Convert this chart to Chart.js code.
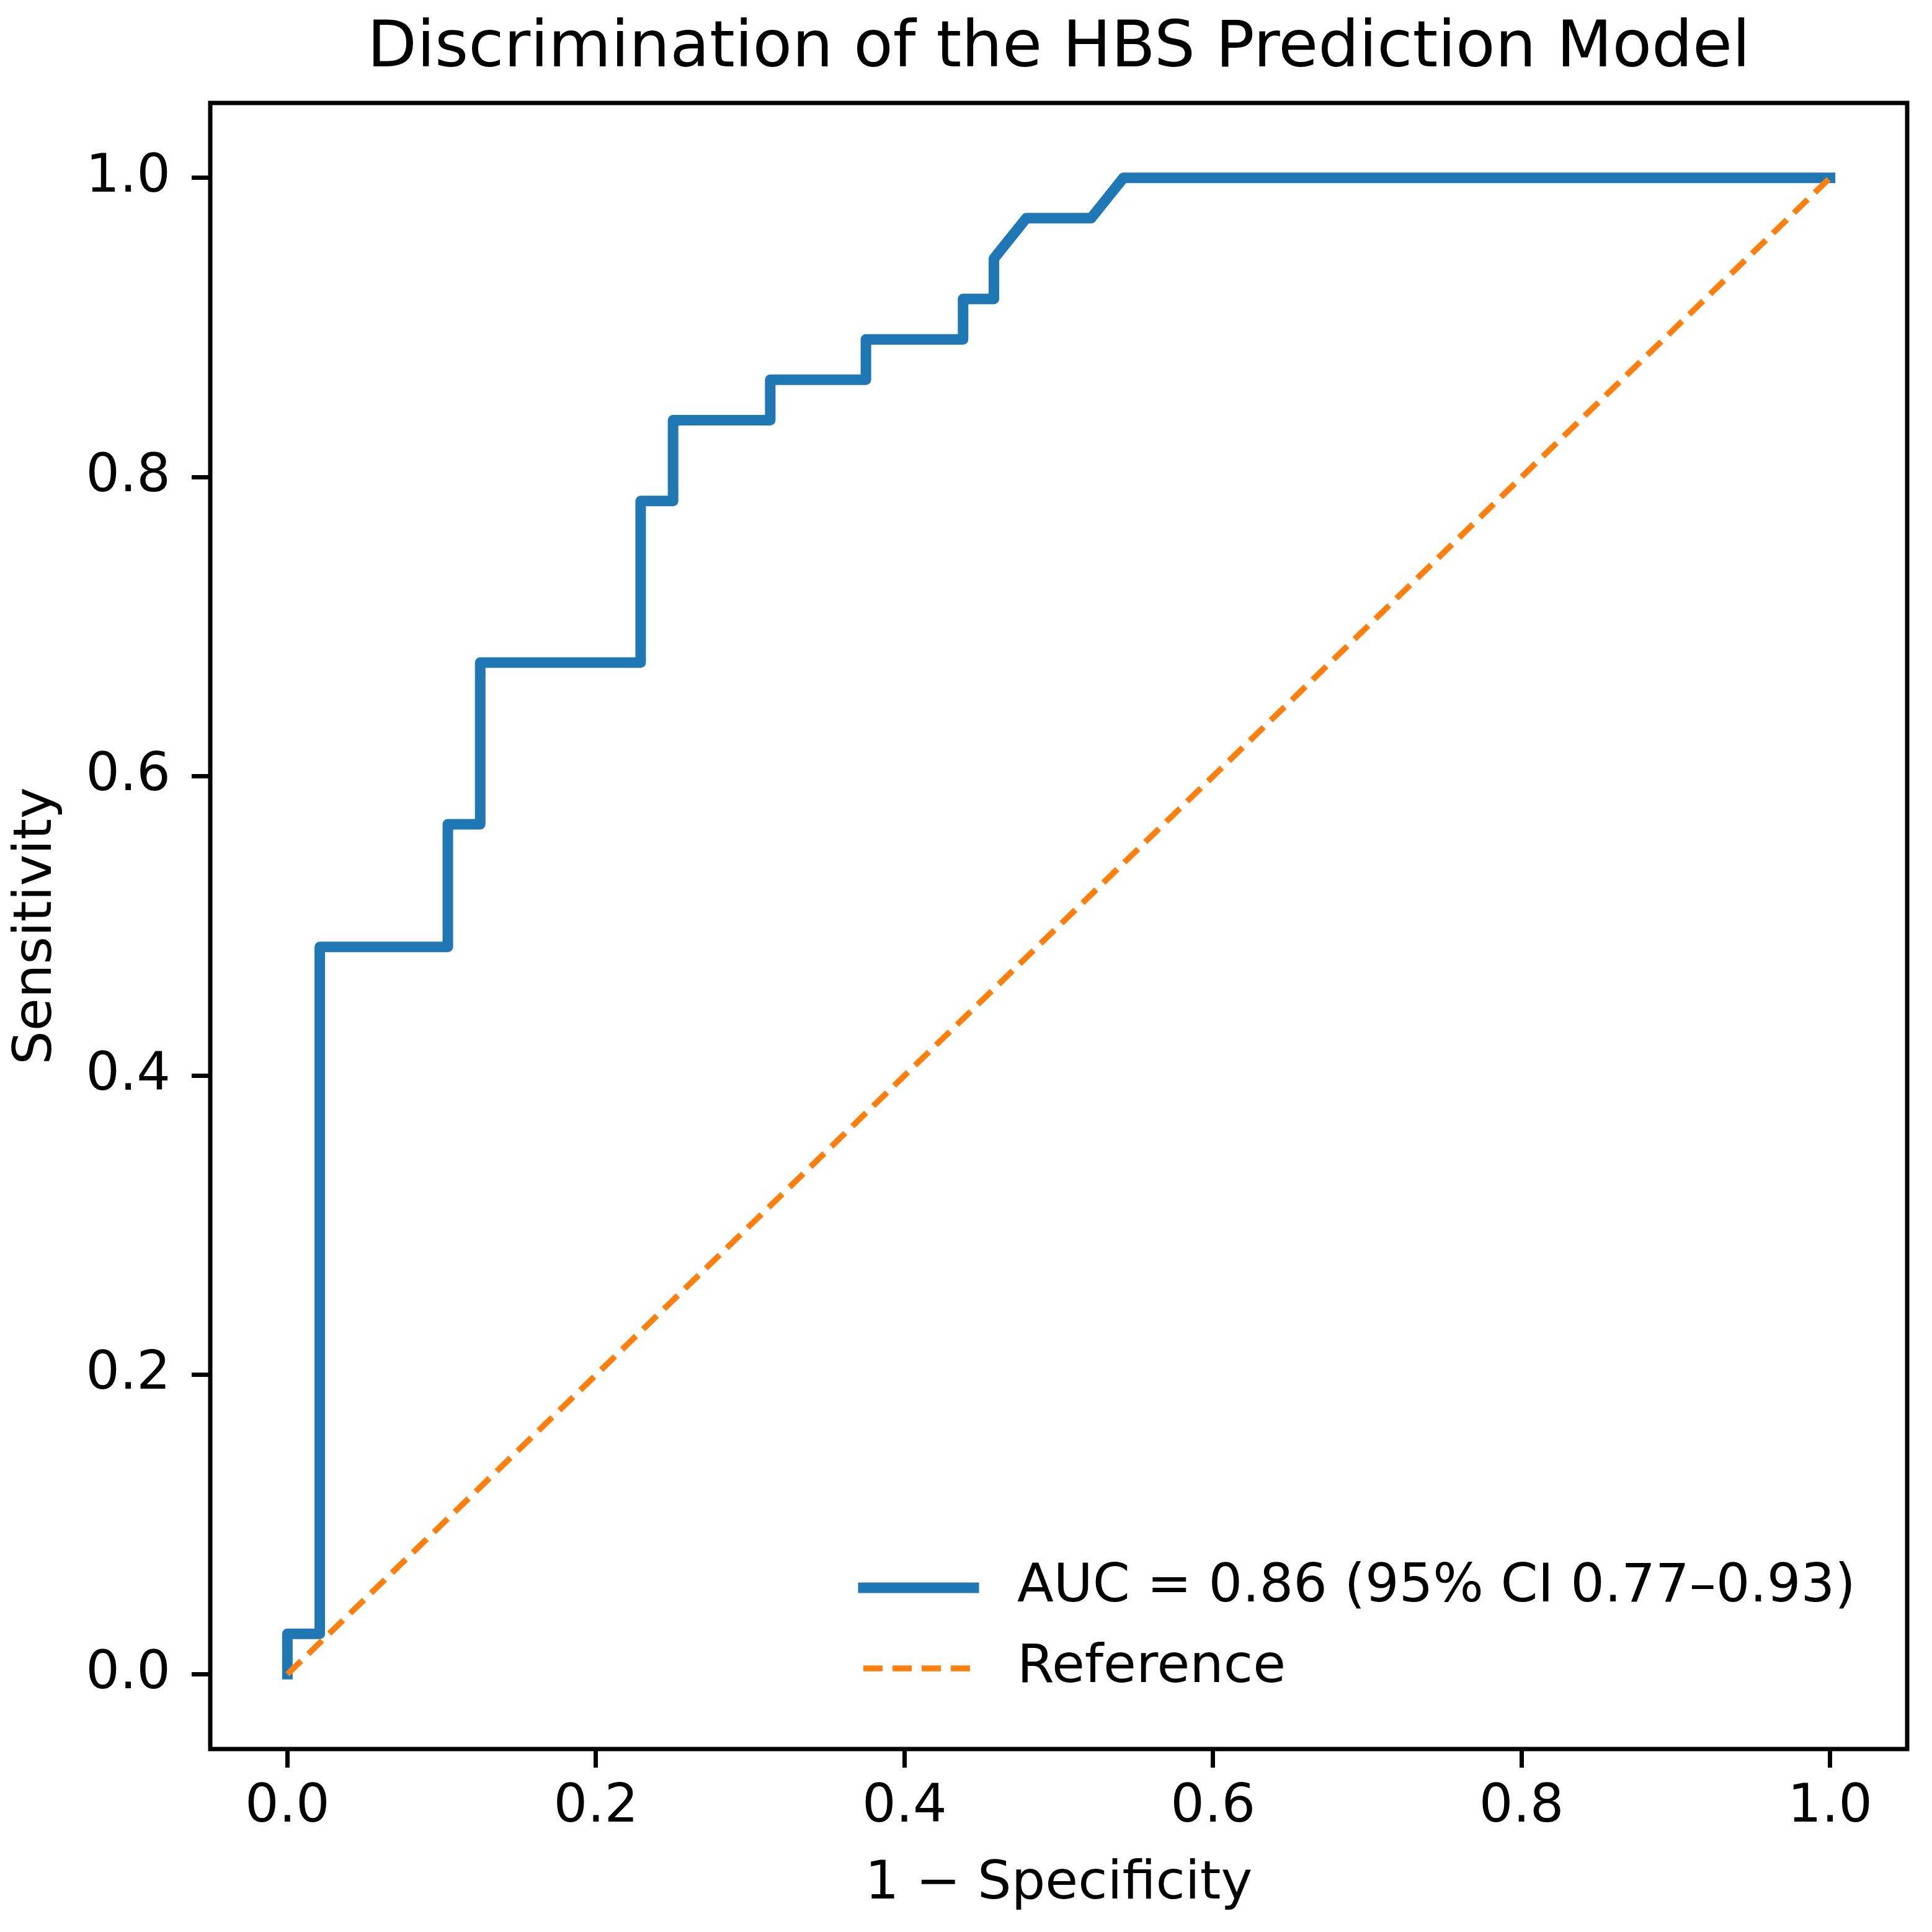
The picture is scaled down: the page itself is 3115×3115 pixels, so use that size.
<!DOCTYPE html>
<html>
<head>
<meta charset="utf-8">
<script src="https://cdn.jsdelivr.net/npm/chart.js@4.4.1/dist/chart.umd.min.js"></script>
<style>
  html, body { margin: 0; padding: 0; background: #fff; overflow: hidden; }
  canvas { display: block; }
</style>
</head>
<body>
<canvas id="c" width="3115" height="3115" style="width:3115px;height:3115px"></canvas>
<script>
// ---- data ----
const chartTitle = 'Discrimination of the HBS Prediction Model';
const xAxisLabel = '1 \u2212 Specificity';
const yAxisLabel = 'Sensitivity';
const rocLabel = 'AUC = 0.86 (95% CI 0.77\u20130.93)';
const refLabel = 'Reference';

// ROC curve: false-positive rate (1 - specificity) and sensitivity
const fprValues = [0, 0, 0.021, 0.021, 0.104, 0.104, 0.125, 0.125, 0.229, 0.229, 0.250, 0.250,
                   0.313, 0.313, 0.375, 0.375, 0.438, 0.438, 0.458, 0.458, 0.479, 0.521, 0.542, 1.0];
const tprValues = [0, 0.027, 0.027, 0.486, 0.486, 0.568, 0.568, 0.676, 0.676, 0.784, 0.784, 0.838,
                   0.838, 0.865, 0.865, 0.892, 0.892, 0.919, 0.919, 0.946, 0.973, 0.973, 1.0, 1.0];
// chance (reference) line
const refX = [0, 1];
const refY = [0, 1];

const xTickValues = [0.0, 0.2, 0.4, 0.6, 0.8, 1.0];
const yTickValues = [0.0, 0.2, 0.4, 0.6, 0.8, 1.0];
const axisMin = -0.05, axisMax = 1.05;

// ---- chart ----
Chart.defaults.font.family = '"DejaVu Sans", sans-serif';
Chart.defaults.color = '#000';

const toPoints = (xs, ys) => xs.map((x, i) => ({ x: x, y: ys[i] }));

const FS = 86;
const TITLE_FS = 104;

const framePlugin = {
  id: 'frameAndLegend',
  afterDraw(chart) {
    const { ctx, chartArea: a } = chart;
    ctx.save();
    // axes box (spines)
    ctx.strokeStyle = '#000';
    ctx.lineWidth = 7;
    ctx.setLineDash([]);
    ctx.strokeRect(a.left, a.top, a.right - a.left, a.bottom - a.top);

    // legend, lower right inside axes
    const ds = chart.data.datasets;
    const hx0 = a.right - 1683;
    const hx1 = hx0 + 178;
    const tx = hx1 + 70;
    const rows = [a.bottom - 260, a.bottom - 130];
    ctx.font = FS + 'px "DejaVu Sans"';
    ctx.textAlign = 'left';
    ctx.textBaseline = 'middle';
    ds.forEach((d, i) => {
      const y = rows[i];
      ctx.beginPath();
      ctx.strokeStyle = d.borderColor;
      ctx.lineWidth = d.borderWidth;
      ctx.lineCap = d.borderCapStyle || 'butt';
      ctx.setLineDash(d.borderDash || []);
      ctx.moveTo(hx0, y);
      ctx.lineTo(hx1, y);
      ctx.stroke();
      ctx.setLineDash([]);
      ctx.fillStyle = '#000';
      ctx.fillText(d.label, tx, y);
    });
    ctx.restore();
  }
};

const fixedTicks = (vals) => (scale) => { scale.ticks = vals.map(v => ({ value: v })); };

new Chart(document.getElementById('c'), {
  type: 'scatter',
  data: {
    datasets: [
      {
        label: rocLabel,
        data: toPoints(fprValues, tprValues),
        showLine: true,
        borderColor: '#1f77b4',
        backgroundColor: '#1f77b4',
        borderWidth: 17,
        borderCapStyle: 'square',
        borderJoinStyle: 'round',
        pointRadius: 0,
        tension: 0,
        fill: false,
        order: 2
      },
      {
        label: refLabel,
        data: toPoints(refX, refY),
        showLine: true,
        borderColor: '#ff7f0e',
        backgroundColor: '#ff7f0e',
        borderWidth: 9.5,
        borderDash: [31, 16],
        borderCapStyle: 'butt',
        pointRadius: 0,
        tension: 0,
        fill: false,
        order: 1
      }
    ]
  },
  options: {
    responsive: false,
    devicePixelRatio: 1,
    animation: false,
    events: [],
    layout: { padding: { left: 0, right: 40, top: 0, bottom: 0 } },
    plugins: {
      legend: { display: false },
      tooltip: { enabled: false },
      title: {
        display: true,
        fullSize: false,
        text: chartTitle,
        color: '#000',
        font: { size: TITLE_FS, weight: 'normal', lineHeight: 1 },
        padding: { top: 28, bottom: 34 }
      }
    },
    scales: {
      x: {
        type: 'linear',
        min: axisMin,
        max: axisMax,
        afterBuildTicks: fixedTicks(xTickValues),
        afterFit: (s) => { s.height = 295; },
        grid: { display: true, drawOnChartArea: false, drawTicks: true, tickLength: 30, tickWidth: 7, tickColor: '#000', color: '#000' },
        border: { display: false },
        ticks: { padding: 22, font: { size: FS, lineHeight: 1 }, color: '#000', maxRotation: 0, autoSkip: false,
                 callback: (v) => Number(v).toFixed(1) },
        title: { display: true, text: xAxisLabel, color: '#000', font: { size: FS, lineHeight: 1 }, padding: { top: 0, bottom: 33 } }
      },
      y: {
        type: 'linear',
        min: axisMin,
        max: axisMax,
        afterBuildTicks: fixedTicks(yTickValues),
        afterFit: (s) => { s.width = 339; },
        grid: { display: true, drawOnChartArea: false, drawTicks: true, tickLength: 30, tickWidth: 7, tickColor: '#000', color: '#000' },
        border: { display: false },
        ticks: { padding: 34, font: { size: FS, lineHeight: 1 }, color: '#000', autoSkip: false,
                 callback: (v) => Number(v).toFixed(1) },
        title: { display: true, text: yAxisLabel, color: '#000', font: { size: FS, lineHeight: 1 }, padding: { top: 17, bottom: 0 } }
      }
    }
  },
  plugins: [framePlugin]
});
</script>
</body>
</html>
